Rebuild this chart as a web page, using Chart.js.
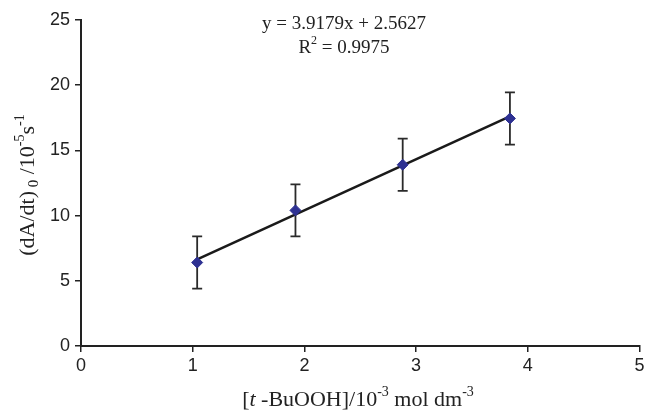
<!DOCTYPE html>
<html>
<head>
<meta charset="utf-8">
<script src="https://cdn.jsdelivr.net/npm/chart.js@4/dist/chart.umd.min.js"></script>
<style>
  html, body { margin: 0; padding: 0; background: #fff; overflow: hidden; }
  #wrap { width: 646px; height: 411px; }
</style>
</head>
<body>
<div id="wrap"><canvas id="rate-chart" width="646" height="411"></canvas></div>
<script>
// data
const concX = [1.04, 1.92, 2.88, 3.84];
const rateY = [6.4, 10.4, 13.9, 17.45];
const errUp = [2, 2, 2, 2];
const errDown = [2, 2, 2, 2];
const trendX = [1.04, 3.84];
const trendY = [6.64, 17.61];
const xTicks = [0, 1, 2, 3, 4, 5];
const yTicks = [0, 5, 10, 15, 20, 25];
const eqText = 'y = 3.9179x + 2.5627';
const r2Text = '= 0.9975';

const SANS = '"Liberation Sans", Arial, sans-serif';
const SERIF = '"Liberation Serif", "Times New Roman", serif';
const INK = '#222';

// draw text made of pieces (sub/superscripts), centred on x
function drawRich(ctx, parts, x, y) {
  let total = 0;
  parts.forEach(p => {
    ctx.font = (p.italic ? 'italic ' : '') + p.size + 'px ' + SERIF;
    p.w = ctx.measureText(p.t).width;
    total += p.w;
  });
  let cx = x - total / 2;
  parts.forEach(p => {
    ctx.font = (p.italic ? 'italic ' : '') + p.size + 'px ' + SERIF;
    ctx.fillText(p.t, cx, y + (p.dy || 0));
    cx += p.w;
  });
}

const errorBars = {
  id: 'errorBars',
  beforeDatasetsDraw(chart) {
    const ctx = chart.ctx, xs = chart.scales.x, ys = chart.scales.y;
    ctx.save();
    ctx.strokeStyle = '#2a2a2a';
    ctx.lineWidth = 1.8;
    concX.forEach((v, i) => {
      const px = xs.getPixelForValue(v);
      const top = ys.getPixelForValue(rateY[i] + errUp[i]);
      const bot = ys.getPixelForValue(rateY[i] - errDown[i]);
      ctx.beginPath();
      ctx.moveTo(px, top); ctx.lineTo(px, bot);
      ctx.moveTo(px - 5, top); ctx.lineTo(px + 5, top);
      ctx.moveTo(px - 5, bot); ctx.lineTo(px + 5, bot);
      ctx.stroke();
    });
    ctx.restore();
  }
};

const labels = {
  id: 'labels',
  afterDraw(chart) {
    const ctx = chart.ctx;
    ctx.save();
    ctx.fillStyle = INK;
    ctx.textBaseline = 'alphabetic';
    ctx.textAlign = 'left';
    // regression annotation
    drawRich(ctx, [{ t: eqText, size: 19 }], 344, 29);
    drawRich(ctx, [{ t: 'R', size: 19 }, { t: '2', size: 12, dy: -9 }, { t: ' ' + r2Text, size: 19 }], 344, 53);
    // x title
    drawRich(ctx, [
      { t: '[', size: 22 }, { t: 't', size: 22, italic: true }, { t: ' -BuOOH]/10', size: 22 },
      { t: '-3', size: 14, dy: -10 }, { t: ' mol dm', size: 22 }, { t: '-3', size: 14, dy: -10 }
    ], 358, 406);
    // y title
    ctx.translate(34, 185);
    ctx.rotate(-Math.PI / 2);
    drawRich(ctx, [
      { t: '(dA/dt)', size: 22 }, { t: ' 0', size: 15, dy: 4 }, { t: ' /10', size: 22 },
      { t: '-5', size: 14, dy: -10 }, { t: 's', size: 22 }, { t: '-1', size: 14, dy: -10 }
    ], 0, 0);
    ctx.restore();
  }
};

function axis(min, max, ticksArr, fit, pad) {
  return {
    type: 'linear',
    min: min, max: max,
    afterBuildTicks: s => { s.ticks = ticksArr.map(v => ({ value: v })); },
    afterFit: fit,
    ticks: { color: INK, font: { family: SANS, size: 18 }, padding: pad },
    grid: { drawOnChartArea: false, drawTicks: true, tickLength: 6, color: INK, lineWidth: 1.5 },
    border: { display: true, color: INK, width: 2 },
    title: { display: false }
  };
}

new Chart(document.getElementById('rate-chart').getContext('2d'), {
  type: 'scatter',
  data: {
    datasets: [
      {
        label: 'Data',
        data: concX.map((x, i) => ({ x: x, y: rateY[i] })),
        pointStyle: 'rectRot',
        pointRadius: 5.5,
        backgroundColor: '#2E3192',
        borderColor: '#2E3192',
        borderWidth: 1,
        order: 1
      },
      {
        label: 'Trend',
        type: 'line',
        data: trendX.map((x, i) => ({ x: x, y: trendY[i] })),
        borderColor: '#1a1a1a',
        borderWidth: 2.6,
        pointRadius: 0,
        fill: false,
        order: 2
      }
    ]
  },
  options: {
    responsive: false,
    animation: false,
    devicePixelRatio: 1,
    layout: { padding: { top: 20, right: 5, left: 0, bottom: 0 } },
    plugins: { legend: { display: false }, tooltip: { enabled: false } },
    scales: {
      // let the last x label run off the edge like in the original
      x: axis(0, 5, xTicks, s => { s.height = 65; s.paddingRight = 0; s.paddingLeft = 0; }, 3),
      y: axis(0, 25, yTicks, s => { s.width = 81; }, 5)
    }
  },
  plugins: [errorBars, labels]
});
</script>
</body>
</html>
